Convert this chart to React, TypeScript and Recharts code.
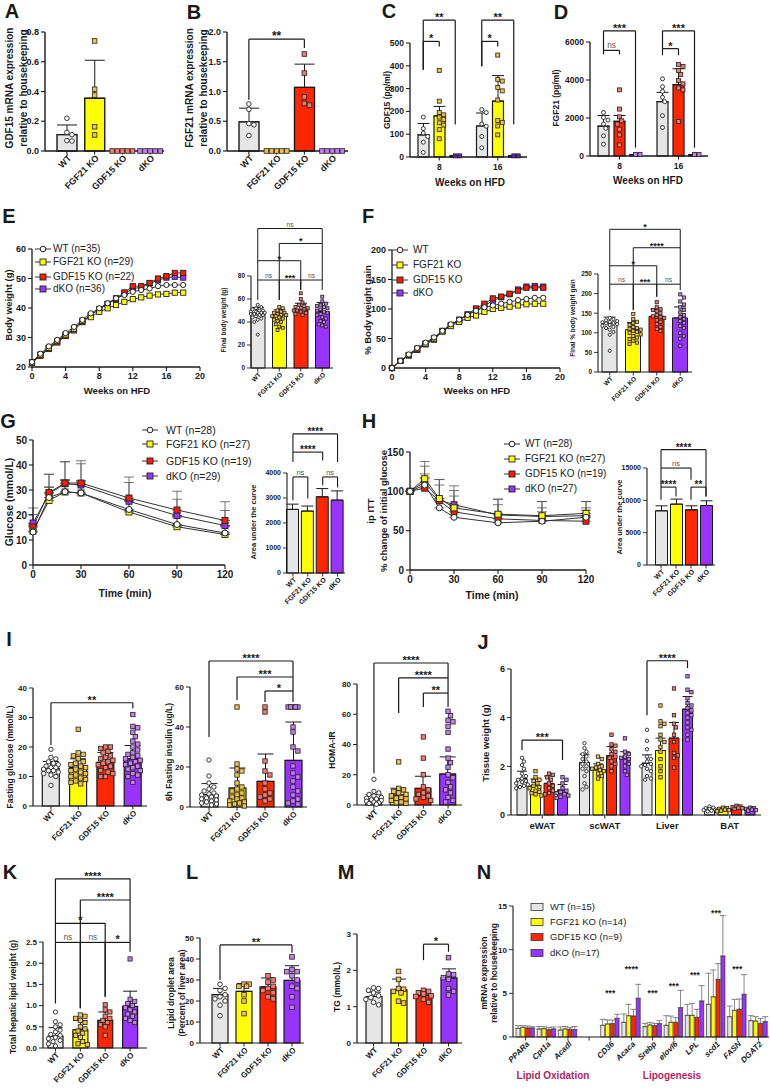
import React from "react";
import {
  ComposedChart,
  Bar,
  Cell,
  ErrorBar,
  Scatter,
  XAxis,
  YAxis,
  ReferenceLine,
  ReferenceDot,
  LineChart,
  Line,
} from "recharts";

const FONT = "'Liberation Sans', Arial, Helvetica, sans-serif";
const INK = "#1a1a1a";

// palette index: WT, FGF21 KO, GDF15 KO, dKO, dKO (dark, panel C)
const BAR_FILL = ["#e6e6e6", "#ffff00", "#ff2600", "#9933ff", "#4a1a8c"];
const DOT_FILL = ["#ffffff", "#efc24e", "#f47a70", "#c77df4", "#5d2aa6"];
const LINE_FILL = ["#ffffff", "#ffff00", "#ff1a00", "#9933ff"];

const GENO = ["WT", "FGF21 KO", "GDF15 KO", "dKO"];

// ---- A / B : liver mRNA
const aMean = [0.11, 0.355, 0, 0];
const aSd = [0.065, 0.255, 0, 0];
const aDots = [
  [0.22, 0.125, 0.11, 0.07, 0.067],
  [0.74, 0.415, 0.376, 0.163, 0.108],
  [0, 0, 0, 0, 0],
  [0, 0, 0, 0, 0],
];
const bMean = [0.49, 0, 1.07, 0];
const bSd = [0.23, 0, 0.39, 0];
const bDots = [
  [0.79, 0.7, 0.46, 0.44, 0.26],
  [0, 0, 0, 0, 0],
  [1.63, 1.31, 0.91, 0.8, 0.77],
  [0, 0, 0, 0, 0],
];

// ---- C / D : plasma GDF15, FGF21 at 8 and 16 weeks
const weeks = ["8", "16"];
const cMean = [[97, 136], [180, 245], [5, 5]];
const cSd = [[50, 57], [42, 112], [0, 0]];
const cDots = [
  [[175, 125, 105, 90, 65, 20], [208, 195, 145, 135, 90, 40]],
  [[380, 245, 195, 185, 175, 165, 150, 140, 120, 80], [447, 340, 333, 305, 290, 250, 160, 152, 136, 97]],
  [[5, 5], [5, 5]],
];
const dMean = [[1570, 2860], [1830, 3760], [80, 80]];
const dSd = [[560, 490], [300, 830], [0, 0]];
const dDots = [
  [[2290, 2030, 1890, 1680, 1460, 1060, 620], [4060, 3650, 3400, 3090, 2860, 2120, 1500]],
  [[3480, 2470, 2060, 1850, 1680, 1410, 1110, 580], [4820, 4710, 4500, 4290, 3970, 3800, 3580, 3480, 1820]],
  [[80, 80], [80, 80]],
];

// ---- E : body weight
const eWeeks = [0, 1, 2, 3, 4, 5, 6, 7, 8, 9, 10, 11, 12, 13, 14, 15, 16, 17, 18];
const eWT = [21.7, 24.5, 27.0, 29.2, 31.5, 33.6, 36.0, 38.2, 39.9, 41.6, 43.3, 44.4, 45.5, 46.1, 46.6, 47.4, 47.8, 47.8, 47.8];
const eF21 = [21.5, 24.2, 26.5, 28.8, 31.0, 33.0, 35.7, 36.9, 38.7, 39.9, 41.0, 42.1, 43.0, 43.6, 44.2, 44.6, 44.8, 45.2, 45.2];
const eG15 = [21.5, 23.8, 26.1, 28.3, 30.5, 33.0, 35.5, 37.5, 39.6, 41.4, 43.3, 45.3, 47.4, 47.4, 48.5, 50.0, 50.8, 51.9, 51.9];
const eDKO = [21.5, 24.0, 26.4, 28.6, 30.6, 32.4, 35.2, 37.6, 39.6, 41.4, 43.0, 44.9, 46.6, 47.0, 48.3, 49.4, 50.3, 50.6, 50.3];
const ebMean = [47.7, 46.2, 50.5, 49.1];
const ebSd = [5, 4.4, 5.8, 7.8];
const ebDots = [
  [55, 53, 52, 51, 50, 50, 49, 49, 48, 48, 48, 47, 47, 46, 46, 45, 44, 43, 42, 40, 29],
  [53, 52, 50, 49, 48, 48, 47, 46, 46, 45, 45, 44, 43, 42, 41, 40, 38, 36, 35, 33],
  [65, 60, 57, 55, 54, 53, 52, 52, 51, 50, 50, 49, 48, 47, 46],
  [62, 58, 56, 55, 54, 53, 52, 51, 50, 49, 48, 47, 46, 44, 43, 41, 40, 38, 37, 36],
];

// ---- F : % body weight gain
const fWT = [0, 12, 23, 34, 43, 52, 63, 74, 82, 90, 97, 103, 106, 109, 112, 115, 117, 119, 119];
const fF21 = [0, 12, 22, 33, 41, 50, 62, 71, 78, 85, 89, 95, 100, 102, 104, 106, 108, 109, 109];
const fG15 = [0, 12, 21, 31, 41, 50, 63, 73, 82, 91, 101, 109, 118, 121, 126, 131, 136, 136, 136];
const fDKO = [0, 12, 22, 31, 40, 48, 62, 72, 81, 90, 98, 106, 114, 120, 125, 133, 138, 139, 138];
const fbMean = [124, 108, 142, 138];
const fbSd = [16, 18, 18, 28];
const fbDots = [
  [138, 135, 132, 130, 128, 127, 125, 124, 122, 120, 118, 115, 112, 108, 102, 95, 54],
  [148, 135, 128, 125, 120, 115, 112, 110, 108, 105, 102, 100, 96, 92, 88, 84, 80, 75, 72],
  [178, 165, 160, 158, 155, 150, 145, 142, 140, 138, 132, 128, 122, 115, 110, 105],
  [198, 190, 180, 172, 165, 158, 152, 145, 140, 135, 130, 125, 118, 112, 100, 92, 85, 67],
];

// ---- G : GTT
const gTime = [0, 10, 20, 30, 60, 90, 120];
const gWT = [13.2, 27.0, 29.3, 28.8, 22.2, 16.2, 12.8];
const gF21 = [13.5, 25.8, 29.2, 28.8, 21.2, 15.3, 12.2];
const gG15 = [15.2, 29.0, 32.8, 32.8, 26.8, 22.0, 17.8];
const gDKO = [16.8, 28.5, 32.5, 32.0, 25.5, 19.8, 15.8];
const gWTsd = [2.5, 4.0, 4.5, 4.5, 3.5, 3.0, 2.5];
const gF21sd = [3.0, 5.5, 5.0, 5.0, 4.5, 4.0, 3.5];
const gG15sd = [5.0, 7.3, 8.5, 8.9, 8.4, 7.5, 7.5];
const gDKOsd = [6.0, 7.8, 8.8, 8.5, 7.5, 6.5, 6.0];
const gbMean = [2545, 2478, 3047, 2915];
const gbSd = [210, 200, 330, 370];

// ---- H : ITT
const hWT = [100, 108, 79, 67, 60, 62, 67];
const hF21 = [100, 116, 91, 79, 71, 69, 72];
const hG15 = [100, 104, 88, 74, 65, 63, 62];
const hDKO = [100, 112, 89, 83, 70, 68, 69];
const hWTsd = [0, 10, 12, 14, 12, 12, 12];
const hF21sd = [0, 22, 24, 22, 19, 18, 15];
const hG15sd = [0, 18, 20, 20, 18, 16, 14];
const hDKOsd = [0, 20, 26, 24, 20, 19, 18];
const hbMean = [8380, 9410, 8530, 9200];
const hbSd = [770, 780, 620, 730];

// ---- I : fasting glucose, insulin, HOMA-IR
const iGluMean = [12.8, 13.0, 14.8, 16.0];
const iGluSd = [2.3, 3.0, 3.3, 4.5];
const iGluDots = [
  [19.2, 16.5, 16, 15, 14.5, 14, 13.5, 13, 13, 12.5, 12, 12, 11.5, 11, 10.5, 10, 7],
  [26, 18, 17.5, 17, 16, 15, 14.5, 14, 13.5, 13, 12.5, 12, 11.5, 11, 10.5, 10, 9.5, 9, 8.5, 8, 7.5],
  [20, 20, 19.5, 18.5, 18, 17, 16.5, 16, 15.5, 15, 14.5, 14, 13.5, 13, 12, 11.5, 11, 10, 10],
  [31, 27, 26.5, 25, 23.5, 22, 21, 20, 19, 18, 17.5, 17, 16.5, 16, 15.5, 15, 14.5, 14, 13.5, 13, 12.5, 12, 11, 10.5, 10, 8],
];
const iInsMean = [6.2, 9.5, 12.8, 23.3];
const iInsSd = [5.5, 10, 13.7, 19.2];
const iInsDots = [
  [23.5, 15.5, 12, 10, 9, 8, 7, 6.5, 6, 5.5, 5, 4.5, 4, 3.5, 3, 2.5, 2, 1.5, 1],
  [50, 21.5, 19, 18, 16, 12, 10, 9, 8, 7, 6, 5, 4.5, 4, 3, 2.5, 2, 1.5, 1, 0.5],
  [50, 47.5, 23, 18, 16, 12, 9, 7, 6, 5, 4, 3],
  [50, 50, 50, 50, 50, 40, 37.5, 30, 28, 20.5, 17, 15, 13, 10, 8, 6, 4, 3, 2, 1.5],
];
const iHomaMean = [4, 6.6, 11, 20.5];
const iHomaSd = [3, 4.5, 8, 11.3];
const iHomaDots = [
  [17, 9, 8, 7, 6, 5, 4.5, 4, 3.5, 3, 2.5, 2, 1.5, 1, 0.5],
  [28.5, 11, 10, 9, 8, 7, 6, 5, 4.5, 4, 3, 2, 1.5, 1],
  [45, 31, 20, 12, 10, 8, 7, 6, 5, 4, 3],
  [62, 59, 56, 55, 52, 48, 37, 31, 28, 25, 20, 18, 15, 12, 10, 8, 5, 3, 2],
];

// ---- J : tissue weights (series = genotype, groups = tissue)
const jTissue = ["eWAT", "scWAT", "Liver", "BAT"];
const jMean = [[1.5, 2.16, 2.13, 0.25], [1.2, 1.85, 2.65, 0.22], [1.3, 2.44, 3.16, 0.3], [1.03, 2.36, 4.35, 0.22]];
const jSd = [[0.3, 0.34, 0.34, 0.06], [0.28, 0.25, 0.51, 0.05], [0.3, 0.37, 0.64, 0.05], [0.22, 0.24, 0.52, 0.05]];
const jDots = [
  [
    [2.35, 2.2, 2.05, 1.9, 1.7, 1.6, 1.5, 1.45, 1.4, 1.35, 1.3, 1.25, 1.2, 1.15, 1.1],
    [2.95, 2.75, 2.6, 2.5, 2.4, 2.3, 2.2, 2.1, 2.0, 1.9, 1.8, 1.6, 1.3, 1.15, 1.05],
    [3.5, 3.05, 2.7, 2.4, 2.3, 2.2, 2.1, 2.05, 2.0, 1.9, 1.8, 1.6, 1.5, 1.45],
    [0.35, 0.3, 0.28, 0.25, 0.22, 0.2, 0.18, 0.15],
  ],
  [
    [1.8, 1.55, 1.45, 1.4, 1.3, 1.2, 1.15, 1.1, 1.0, 0.95, 0.9, 0.85, 0.8],
    [2.4, 2.3, 2.1, 2.0, 1.95, 1.9, 1.85, 1.8, 1.7, 1.6, 1.5],
    [4.5, 3.85, 3.75, 3.65, 3.3, 3.1, 3.0, 2.8, 2.6, 2.3, 2.0, 1.8, 1.55],
    [0.3, 0.28, 0.25, 0.22, 0.2, 0.18, 0.15],
  ],
  [
    [1.7, 1.65, 1.55, 1.45, 1.3, 1.2, 1.1, 1.0, 0.9, 0.85],
    [3.3, 2.9, 2.85, 2.7, 2.6, 2.5, 2.4, 2.35, 2.2, 2.1, 2.0, 1.8],
    [5.2, 4.1, 3.75, 3.6, 3.3, 3.0, 2.55, 2.45, 2.35, 1.95],
    [0.38, 0.35, 0.32, 0.3, 0.28, 0.25],
  ],
  [
    [1.55, 1.45, 1.3, 1.1, 1.0, 0.95, 0.9, 0.85, 0.8, 0.75, 0.7],
    [3.15, 2.6, 2.5, 2.4, 2.35, 2.3, 2.2, 2.1, 2.0, 1.8, 1.65],
    [5.7, 5.15, 5.05, 4.8, 4.6, 4.5, 4.4, 4.3, 4.2, 4.1, 4.0, 3.8, 3.6, 3.5, 3.3, 3.1],
    [0.3, 0.28, 0.25, 0.22, 0.2, 0.18],
  ],
];

// ---- K / L / M : hepatic lipid, droplet area, TG
const kMean = [0.28, 0.43, 0.65, 0.98];
const kSd = [0.2, 0.22, 0.2, 0.36];
const kDots = [
  [0.85, 0.62, 0.55, 0.5, 0.42, 0.38, 0.32, 0.3, 0.25, 0.22, 0.18, 0.15, 0.1, 0.05],
  [0.78, 0.75, 0.7, 0.65, 0.6, 0.5, 0.45, 0.4, 0.35, 0.3, 0.25, 0.15, 0.1, 0.08],
  [1.02, 0.9, 0.85, 0.75, 0.7, 0.65, 0.6, 0.55, 0.5, 0.3],
  [2.1, 1.15, 1.1, 1.05, 1.0, 0.95, 0.9, 0.85, 0.8, 0.75, 0.7, 0.65, 0.6],
];
const lMean = [23, 24.6, 26.7, 29.8];
const lSd = [3, 3.7, 4.3, 7];
const lDots = [
  [28, 26, 25, 23, 22, 21, 20, 18, 13],
  [28, 28, 27, 27, 23, 20, 14],
  [32, 30, 29, 27, 26, 25, 24, 22, 21],
  [41, 35, 34, 34, 32, 30, 27, 26, 22, 17],
];
const mMean = [1.28, 1.46, 1.32, 1.79];
const mSd = [0.12, 0.3, 0.12, 0.25];
const mDots = [
  [1.52, 1.5, 1.45, 1.38, 1.3, 1.25, 1.2, 1.12, 1.05],
  [1.97, 1.75, 1.5, 1.48, 1.42, 1.38, 1.15, 1.1],
  [1.45, 1.42, 1.38, 1.35, 1.3, 1.28, 1.2, 1.12],
  [2.35, 1.9, 1.88, 1.8, 1.75, 1.5, 1.42, 1.32],
];

// ---- N : hepatic gene expression
const nGenes = ["PPARa", "Cpt1a", "Acadl", " ", "CD36", "Acaca", "Srebp", "elovl6", "LPL", "scd1", "FASN", "DGAT2"];
const nMean = [
  [0.99, 0.92, 0.8, 0, 1.34, 1.68, 1.18, 1.34, 2.48, 3.74, 2.33, 1.87],
  [1.1, 0.95, 0.92, 0, 1.49, 2.44, 1.37, 1.68, 2.48, 4.6, 3.05, 1.83],
  [1.03, 0.84, 0.88, 0, 1.53, 2.4, 1.3, 1.68, 2.25, 6.6, 3.17, 1.56],
  [1.03, 0.92, 0.84, 0, 2.14, 4.43, 1.53, 3.36, 4.12, 9.27, 4.89, 1.76],
];
const nSd = [
  [0.31, 0.28, 0.35, 0, 0.68, 0.95, 0.38, 1.1, 1.26, 3.56, 1.22, 0.57],
  [0.2, 0.23, 0.28, 0, 0.46, 1.3, 0.31, 0.72, 1.37, 3.07, 1.26, 0.5],
  [0.23, 0.26, 0.22, 0, 0.42, 0.77, 0.26, 0.53, 0.92, 1.8, 1.18, 0.58],
  [0.15, 0.23, 0.36, 0, 0.46, 1.6, 0.34, 1.98, 1.76, 4.63, 2.25, 0.57],
];
const nStarGene = [4, 5, 6, 7, 8, 9, 10];
const nStarY = [5.0, 7.8, 5.0, 5.8, 7.1, 14.2, 7.8];
const nStarText = ["***", "****", "***", "***", "***", "***", "***"];

const eLegend = ["WT (n=35)", "FGF21 KO (n=29)", "GDF15 KO (n=22)", "dKO (n=36)"];
const fLegend = ["WT", "FGF21 KO", "GDF15 KO", "dKO"];
const gLegend = ["WT (n=28)", "FGF21 KO (n=27)", "GDF15 KO (n=19)", "dKO (n=29)"];
const hLegend = ["WT (n=28)", "FGF21 KO (n=27)", "GDF15 KO (n=19)", "dKO (n=27)"];
const nLegend = ["WT (n=15)", "FGF21 KO (n=14)", "GDF15 KO (n=9)", "dKO (n=17)"];

const SKEYS = ["wt", "f21", "g15", "dko"];
const eRows = eWeeks.map((t, i) => ({ t, wt: eWT[i], f21: eF21[i], g15: eG15[i], dko: eDKO[i] }));
const fRows = eWeeks.map((t, i) => ({ t, wt: fWT[i], f21: fF21[i], g15: fG15[i], dko: fDKO[i] }));
const gRows = gTime.map((t, i) => ({
  t, wt: gWT[i], f21: gF21[i], g15: gG15[i], dko: gDKO[i],
  wtE: [0, gWTsd[i]], f21E: [0, gF21sd[i]], g15E: [0, gG15sd[i]], dkoE: [0, gDKOsd[i]],
}));
const hRows = gTime.map((t, i) => ({
  t, wt: hWT[i], f21: hF21[i], g15: hG15[i], dko: hDKO[i],
  wtE: [0, hWTsd[i]], f21E: [0, hF21sd[i]], g15E: [0, hG15sd[i]], dkoE: [0, hDKOsd[i]],
}));

// simple beeswarm: horizontal offsets (px) so dots don't overlap
function swarm(vals: number[], ppu: number, d: number, lim: number): number[] {
  const order = vals.map((_, i) => i).sort((a, b) => vals[b] - vals[a]);
  const placed: number[][] = [];
  const off = vals.map(() => 0);
  for (const i of order) {
    const y = vals[i] * ppu;
    let pick = 0;
    let best = -1;
    for (let k = 0; k < 80; k++) {
      const c = k === 0 ? 0 : (k % 2 === 1 ? 1 : -1) * Math.ceil(k / 2) * d * 0.5;
      if (Math.abs(c) > lim) break;
      let m = Infinity;
      for (const q of placed) m = Math.min(m, Math.hypot(q[0] - c, q[1] - y));
      if (m >= d) { pick = c; break; }
      if (m > best) { best = m; pick = c; }
    }
    off[i] = pick;
    placed.push([pick, y]);
  }
  return off;
}

const DotShape = (p: any) => {
  const { cx, cy, payload } = p;
  const r = payload.r;
  if (payload.c < 0) return <g />;
  if (payload.c === 0)
    return <circle cx={cx} cy={cy} r={r} fill="#fff" stroke="#222" strokeWidth={0.9} />;
  return (
    <rect x={cx - r} y={cy - r} width={2 * r} height={2 * r} fill={DOT_FILL[payload.c]} stroke="#222" strokeWidth={0.8} />
  );
};

const makeTick = (kind: string, fs: number) => (props: any) => {
  const { x, y, payload } = props;
  if (kind === "flat")
    return (
      <text x={x} y={y + fs * 0.85} textAnchor="middle" fontSize={fs} fontWeight={700} fontFamily={FONT} fill={INK}>
        {payload.value}
      </text>
    );
  const ax = x + fs * 0.3;
  const ay = y;
  return (
    <text
      x={ax}
      y={ay}
      transform={`rotate(-45 ${ax} ${ay})`}
      textAnchor="end"
      dy={fs * 0.35}
      fontSize={fs}
      fontWeight={700}
      fontStyle={kind === "ital" ? "italic" : "normal"}
      fontFamily={FONT}
      fill={INK}
    >
      {payload.value}
    </text>
  );
};

type Br = { a: number[]; b: number[]; y: number; ya: number; yb: number; t: string };

const YW = 40;
const TOP = 95;
const BOT = 70;
const XH = 62;
const RM = 8;

function DotBar(p: any) {
  const padL = p.padL ?? 0;
  const padR = p.padR ?? 0;
  const gap = p.gap ?? 0;
  const aw = p.aw ?? 1.2;
  const bfs = p.bfs ?? 10;
  const G = p.cats.length;
  const S = p.mean.length;
  const band = (p.x2 - p.x1 - padL - padR) / G;
  const ppu = (p.y2 - p.y1) / p.max;
  const pos = (g: number, s: number) => g + ((s - (S - 1) / 2) * (p.bar + gap)) / band;
  const color = (s: number, g: number) => (p.byGroup ? p.col[g] : p.col[s]);
  const rows = p.cats.map((name: string, g: number) => {
    const row: any = { name };
    for (let s = 0; s < S; s++) {
      row["m" + s] = p.mean[s][g];
      row["e" + s] = [0, p.sd[s][g]];
    }
    return row;
  });
  const r = p.r ?? 2;
  // invisible anchors at each bar top keep the numeric helper axis alive
  const pts: any[] = [];
  for (let s = 0; s < S; s++)
    for (let g = 0; g < G; g++) pts.push({ x: pos(g, s), y: p.mean[s][g], c: -1, r: 0 });
  if (p.dots)
    p.dots.forEach((byG: number[][], s: number) =>
      byG.forEach((vals: number[], g: number) => {
        const off = swarm(vals, ppu, 2 * r + 0.5, p.bar / 2 + r * 0.5);
        vals.forEach((v, i) => pts.push({ x: pos(g, s) + off[i] / band, y: v, c: color(s, g), r }));
      })
    );
  const brEls = (p.br ?? []).flatMap((b: Br, i: number) => {
    const xa = pos(b.a[0], b.a[1] ?? 0);
    const xb = pos(b.b[0], b.b[1] ?? 0);
    const ns = b.t === "ns";
    const seg = (k: string, q: any) => (
      <ReferenceLine key={i + k} xAxisId="n" segment={q} stroke={INK} strokeWidth={p.bw ?? 1.2} ifOverflow="visible" />
    );
    return [
      seg("a", [{ x: xa, y: b.ya }, { x: xa, y: b.y }]),
      seg("t", [{ x: xa, y: b.y }, { x: xb, y: b.y }]),
      seg("b", [{ x: xb, y: b.y }, { x: xb, y: b.yb }]),
      <ReferenceDot
        key={i + "l"}
        xAxisId="n"
        x={(xa + xb) / 2}
        y={b.y}
        r={0}
        fill="none"
        stroke="none"
        ifOverflow="visible"
        label={{
          value: b.t,
          position: "top",
          offset: ns ? 2 : -1,
          fontSize: ns ? bfs * 0.75 : bfs,
          fontWeight: ns ? 400 : 700,
          fill: ns ? "#555" : INK,
          fontFamily: FONT,
        }}
      />,
    ];
  });
  const starEls = (p.stars ?? []).map((st: any, i: number) => (
    <ReferenceDot
      key={"s" + i}
      xAxisId="n"
      x={st.g}
      y={st.y}
      r={0}
      fill="none"
      stroke="none"
      ifOverflow="visible"
      label={{ value: st.t, position: "center", fontSize: bfs, fontWeight: 700, fill: INK, fontFamily: FONT }}
    />
  ));
  const W = p.x2 - p.x1 + YW + RM;
  const H = p.y2 - p.y1 + TOP + BOT;
  return (
    <div style={{ position: "absolute", left: p.x1 - YW, top: p.y1 - TOP }}>
      <ComposedChart
        width={W}
        height={H}
        data={rows}
        margin={{ top: TOP, right: RM, bottom: BOT - XH, left: 0 }}
        barSize={p.bar}
        barGap={gap}
      >
        <XAxis
          xAxisId="c"
          dataKey="name"
          type="category"
          height={XH}
          padding={{ left: padL, right: padR }}
          interval={0}
          tickSize={3.5}
          axisLine={{ stroke: INK, strokeWidth: aw }}
          tickLine={{ stroke: INK, strokeWidth: aw * 0.8 }}
          tick={makeTick(p.tick, p.xfs)}
        />
        <XAxis xAxisId="n" type="number" dataKey="x" domain={[-0.5, G - 0.5]} hide padding={{ left: padL, right: padR }} />
        <YAxis
          width={YW}
          domain={[0, p.max]}
          ticks={p.ticks}
          interval={0}
          tickSize={4}
          axisLine={{ stroke: INK, strokeWidth: aw }}
          tickLine={{ stroke: INK, strokeWidth: aw * 0.8 }}
          tickFormatter={(v: number) => (p.dec ? v.toFixed(p.dec) : String(v))}
          tick={{ fontSize: p.tfs, fontWeight: 700, fill: INK, fontFamily: FONT }}
        />
        {Array.from({ length: S }, (_, s) => (
          <Bar
            key={s}
            xAxisId="c"
            dataKey={"m" + s}
            barSize={p.bar}
            stroke={INK}
            strokeWidth={p.bsw ?? 1.2}
            isAnimationActive={false}
          >
            {p.cats.map((_c: string, g: number) => (
              <Cell key={g} fill={BAR_FILL[color(s, g)]} />
            ))}
            <ErrorBar dataKey={"e" + s} width={p.cap} stroke={p.ec ?? INK} strokeWidth={p.esw ?? 1} />
          </Bar>
        ))}
        <Scatter xAxisId="n" data={pts} dataKey="y" shape={DotShape} isAnimationActive={false} />
        {brEls}
        {starEls}
      </ComposedChart>
    </div>
  );
}

function mark(d: any, s: number, r: number) {
  const { cx, cy, index } = d;
  if (cx == null || cy == null) return <g key={index} />;
  if (s === 0) return <circle key={index} cx={cx} cy={cy} r={r} fill="#fff" stroke="#222" strokeWidth={1} />;
  return (
    <rect key={index} x={cx - r} y={cy - r} width={2 * r} height={2 * r} fill={LINE_FILL[s]} stroke="#222" strokeWidth={0.9} />
  );
}

function TimeLines(p: any) {
  const T = 20;
  const XB = 26;
  const W = p.x2 - p.x1 + YW + RM;
  const H = p.y2 - p.y1 + T + XB + 2;
  return (
    <div style={{ position: "absolute", left: p.x1 - YW, top: p.y1 - T }}>
      <LineChart width={W} height={H} data={p.rows} margin={{ top: T, right: RM, bottom: 2, left: 0 }}>
        <XAxis
          dataKey="t"
          type="number"
          domain={p.xd}
          ticks={p.xt}
          interval={0}
          height={XB}
          tickSize={4}
          axisLine={{ stroke: INK, strokeWidth: 1.3 }}
          tickLine={{ stroke: INK, strokeWidth: 1.1 }}
          tick={{ fontSize: p.tfs, fontWeight: 700, fill: INK, fontFamily: FONT }}
        />
        <YAxis
          width={YW}
          domain={p.yd}
          ticks={p.yt}
          interval={0}
          tickSize={4}
          axisLine={{ stroke: INK, strokeWidth: 1.3 }}
          tickLine={{ stroke: INK, strokeWidth: 1.1 }}
          tick={{ fontSize: p.tfs, fontWeight: 700, fill: INK, fontFamily: FONT }}
        />
        {[3, 2, 1, 0].map((s) => (
          <Line
            key={s}
            dataKey={SKEYS[s]}
            stroke="#333"
            strokeWidth={1}
            isAnimationActive={false}
            dot={(d: any) => mark(d, s, p.r)}
          >
            {p.err && <ErrorBar dataKey={SKEYS[s] + "E"} width={5} stroke="#555" strokeWidth={0.8} direction="y" />}
          </Line>
        ))}
      </LineChart>
    </div>
  );
}

function Legend4(p: any) {
  return (
    <>
      {p.labels.map((l: string, i: number) => (
        <React.Fragment key={i}>
          <svg style={{ position: "absolute", left: p.mx - 9, top: p.ys[i] - 6 }} width={18} height={12}>
            {p.box ? (
              <rect x={3} y={2.5} width={12} height={7} fill={BAR_FILL[i]} stroke="#333" strokeWidth={0.8} />
            ) : (
              <>
                <line x1={1} y1={6} x2={17} y2={6} stroke="#333" strokeWidth={1} />
                {i === 0 ? (
                  <circle cx={9} cy={6} r={2.8} fill="#fff" stroke="#222" strokeWidth={1} />
                ) : (
                  <rect x={6} y={3} width={6} height={6} fill={LINE_FILL[i]} stroke="#222" strokeWidth={0.9} />
                )}
              </>
            )}
          </svg>
          <div
            style={{
              position: "absolute",
              left: p.tx,
              top: p.ys[i],
              transform: "translateY(-50%)",
              fontSize: p.fs,
              lineHeight: 1,
              whiteSpace: "nowrap",
              color: "#222",
            }}
          >
            {l}
          </div>
        </React.Fragment>
      ))}
    </>
  );
}

function Txt(p: any) {
  return (
    <div
      style={{
        position: "absolute",
        left: p.x,
        top: p.y,
        transform: "translate(-50%,-50%)",
        fontSize: p.fs,
        fontWeight: p.w ?? 700,
        color: p.c ?? INK,
        whiteSpace: "nowrap",
        lineHeight: 1,
      }}
    >
      {p.t}
    </div>
  );
}

function YLab(p: any) {
  return (
    <div
      style={{
        position: "absolute",
        left: p.x,
        top: p.y,
        transform: "translate(-50%,-50%) rotate(-90deg)",
        fontSize: p.fs,
        fontWeight: 700,
        whiteSpace: "nowrap",
        lineHeight: p.lh ?? 1.2,
        textAlign: "center",
        color: INK,
      }}
    >
      {p.lines.map((l: string, i: number) => (
        <div key={i}>{l}</div>
      ))}
    </div>
  );
}

const Letter = (p: any) => <Txt x={p.x} y={p.y} t={p.ch} fs={20} />;

const G4 = [0, 1, 2, 3];

export default function App() {
  return (
    <div
      style={{
        position: "absolute",
        left: 0,
        top: 0,
        width: 770,
        height: 1090,
        overflow: "hidden",
        background: "#fff",
        fontFamily: FONT,
        color: INK,
      }}
    >
      {/* A */}
      <Letter ch="A" x={12} y={11} />
      <YLab x={17} y={88} lines={["GDF15 mRNA expression", "relative to housekeeping"]} fs={10} lh={1.4} />
      <DotBar x1={45} x2={164} y1={32} y2={151} padL={8} cats={GENO} mean={[aMean]} sd={[aSd]} dots={[aDots]}
        col={G4} byGroup max={0.8} ticks={[0, 0.2, 0.4, 0.6, 0.8]} dec={1} tfs={9} bar={20} r={2.3} cap={10}
        tick="rot" xfs={9} aw={1.4} bsw={1.4} />

      {/* B */}
      <Letter ch="B" x={194} y={12} />
      <YLab x={197} y={88} lines={["FGF21 mRNA expression", "relative to housekeeping"]} fs={10} lh={1.4} />
      <DotBar x1={227} x2={348} y1={32} y2={151} padL={8} padR={2} cats={GENO} mean={[bMean]} sd={[bSd]} dots={[bDots]}
        col={G4} byGroup max={2} ticks={[0, 0.5, 1, 1.5, 2]} dec={1} tfs={9} bar={20} r={2.3} cap={10}
        tick="rot" xfs={9} aw={1.4} bsw={1.4} bfs={12}
        br={[{ a: [0], b: [2], y: 1.88, ya: 0.86, yb: 1.73, t: "**" }]} />

      {/* C */}
      <Letter ch="C" x={389} y={11} />
      <YLab x={387} y={100} lines={["GDF15 (pg/ml)"]} fs={8.5} />
      <DotBar x1={410} x2={527} y1={43} y2={157} cats={weeks} mean={cMean} sd={cSd} dots={cDots}
        col={[0, 1, 4]} max={500} ticks={[0, 100, 200, 300, 400, 500]} tfs={8.5} bar={11} gap={5} r={2} cap={6}
        tick="flat" xfs={8.5} aw={1.3} bfs={11}
        br={[
          { a: [0, 0], b: [0, 2], y: 600, ya: 383, yb: 142, t: "**" },
          { a: [0, 0], b: [0, 1], y: 507, ya: 383, yb: 485, t: "*" },
          { a: [1, 0], b: [1, 2], y: 600, ya: 398, yb: 142, t: "**" },
          { a: [1, 0], b: [1, 1], y: 507, ya: 398, yb: 485, t: "*" },
        ]} />
      <Txt x={470} y={183} t="Weeks on HFD" fs={10} />

      {/* D */}
      <Letter ch="D" x={561} y={12} />
      <YLab x={556} y={98} lines={["FGF21 (pg/ml)"]} fs={8.5} />
      <DotBar x1={590} x2={708} y1={42} y2={156} cats={weeks} mean={dMean} sd={dSd} dots={dDots}
        col={[0, 2, 3]} max={6000} ticks={[0, 2000, 4000, 6000]} tfs={8.5} bar={11} gap={5} r={2} cap={6}
        tick="flat" xfs={8.5} aw={1.3} bfs={11}
        br={[
          { a: [0, 0], b: [0, 2], y: 6583, ya: 5560, yb: 441, t: "***" },
          { a: [0, 0], b: [0, 1], y: 5560, ya: 5350, yb: 5350, t: "ns" },
          { a: [1, 0], b: [1, 2], y: 6583, ya: 5650, yb: 441, t: "***" },
          { a: [1, 0], b: [1, 1], y: 5650, ya: 5300, yb: 5300, t: "*" },
        ]} />
      <Txt x={648} y={181} t="Weeks on HFD" fs={10} />

      {/* E */}
      <Letter ch="E" x={9} y={216} />
      <YLab x={9} y={305} lines={["Body weight (g)"]} fs={9.5} />
      <TimeLines x1={32} x2={200} y1={249} y2={367} rows={eRows} xd={[0, 20]} xt={[0, 4, 8, 12, 16, 20]}
        yd={[20, 60]} yt={[20, 30, 40, 50, 60]} tfs={9} r={2.6} />
      <Legend4 mx={43} tx={53} ys={[249, 262, 277, 289]} labels={eLegend} fs={10} />
      <Txt x={117} y={391} t="Weeks on HFD" fs={9.5} />
      <YLab x={224} y={320} lines={["Final body weight (g)"]} fs={6.5} />
      <DotBar x1={251} x2={333} y1={276} y2={368} padL={-4} cats={GENO} mean={[ebMean]} sd={[ebSd]} dots={[ebDots]}
        col={G4} byGroup max={80} ticks={[0, 20, 40, 60, 80]} tfs={6.5} bar={14} r={1.5} cap={6}
        tick="rot" xfs={6.5} aw={1.1} bsw={1} bfs={9} bw={1}
        br={[
          { a: [0], b: [3], y: 121.3, ya: 93.3, yb: 108.3, t: "ns" },
          { a: [1], b: [3], y: 108.3, ya: 76.5, yb: 76.5, t: "*" },
          { a: [0], b: [2], y: 93.3, ya: 76.5, yb: 76.5, t: "*" },
          { a: [0], b: [1], y: 76.5, ya: 59.2, yb: 59.2, t: "ns" },
          { a: [1], b: [2], y: 76.5, ya: 59.2, yb: 67.9, t: "***" },
          { a: [2], b: [3], y: 76.5, ya: 67.9, yb: 67.9, t: "ns" },
        ]} />

      {/* F */}
      <Letter ch="F" x={368} y={216} />
      <YLab x={368} y={310} lines={["% Body weight gain"]} fs={9.5} />
      <TimeLines x1={392} x2={560} y1={250} y2={368} rows={fRows} xd={[0, 20]} xt={[0, 4, 8, 12, 16, 20]}
        yd={[0, 200]} yt={[0, 50, 100, 150, 200]} tfs={9} r={2.6} />
      <Legend4 mx={400} tx={413} ys={[250, 265, 280, 293]} labels={fLegend} fs={10} />
      <Txt x={477} y={391} t="Weeks on HFD" fs={9.5} />
      <YLab x={573} y={318} lines={["Final % body weight gain"]} fs={6.5} />
      <DotBar x1={598} x2={692} y1={274} y2={372} cats={GENO} mean={[fbMean]} sd={[fbSd]} dots={[fbDots]}
        col={G4} byGroup max={250} ticks={[0, 50, 100, 150, 200, 250]} tfs={6.5} bar={15} r={1.6} cap={6}
        tick="rot" xfs={6.5} aw={1.1} bsw={1} bfs={9} bw={1}
        br={[
          { a: [0], b: [3], y: 364, ya: 271, yb: 317, t: "*" },
          { a: [1], b: [3], y: 317, ya: 224, yb: 224, t: "****" },
          { a: [0], b: [2], y: 271, ya: 224, yb: 224, t: "*" },
          { a: [0], b: [1], y: 224, ya: 158, yb: 158, t: "ns" },
          { a: [1], b: [2], y: 224, ya: 158, yb: 192, t: "***" },
          { a: [2], b: [3], y: 224, ya: 192, yb: 209, t: "ns" },
        ]} />

      {/* G */}
      <Letter ch="G" x={8} y={421} />
      <YLab x={9} y={502} lines={["Glucose (mmol/L)"]} fs={10.5} />
      <TimeLines x1={33} x2={225} y1={440} y2={565} rows={gRows} xd={[0, 120]} xt={[0, 30, 60, 90, 120]}
        yd={[0, 50]} yt={[0, 10, 20, 30, 40, 50]} tfs={10} r={3} err />
      <Legend4 mx={150} tx={166} ys={[430, 444, 461, 476]} labels={gLegend} fs={10.5} />
      <Txt x={125} y={593} t="Time (min)" fs={10.5} />
      <YLab x={253} y={522} lines={["Area under the curve"]} fs={7.5} />
      <DotBar x1={287} x2={345} y1={473} y2={573} padL={-1.5} cats={GENO} mean={[gbMean]} sd={[gbSd]}
        col={G4} byGroup max={4000} ticks={[0, 1000, 2000, 3000, 4000]} tfs={7} bar={12} cap={6}
        tick="rot" xfs={7} aw={1.1} bsw={1} bfs={10} bw={1.1}
        br={[
          { a: [0], b: [3], y: 5565, ya: 4836, yb: 4439, t: "****" },
          { a: [0], b: [2], y: 4836, ya: 4439, yb: 4505, t: "****" },
          { a: [0], b: [1], y: 3843, ya: 2915, yb: 2981, t: "ns" },
          { a: [2], b: [3], y: 3843, ya: 3511, yb: 3419, t: "ns" },
        ]} />

      {/* H */}
      <Letter ch="H" x={369} y={421} />
      <YLab x={378} y={511} lines={["ip ITT", "% change of initial glucose"]} fs={9.5} lh={1.35} />
      <TimeLines x1={410} x2={586} y1={452} y2={570} rows={hRows} xd={[0, 120]} xt={[0, 30, 60, 90, 120]}
        yd={[0, 150]} yt={[0, 50, 100, 150]} tfs={10} r={3} err />
      <Legend4 mx={512} tx={525} ys={[444, 459, 474, 489]} labels={hLegend} fs={10} />
      <Txt x={492} y={595} t="Time (min)" fs={10.5} />
      <YLab x={619} y={517} lines={["Area under the curve"]} fs={7.5} />
      <DotBar x1={647} x2={715} y1={468} y2={565} padL={6.5} padR={1.5} cats={GENO} mean={[hbMean]} sd={[hbSd]}
        col={G4} byGroup max={15000} ticks={[0, 5000, 10000, 15000]} tfs={7} bar={12} cap={6}
        tick="rot" xfs={7} aw={1.1} bsw={1} bfs={10} bw={1.1}
        br={[
          { a: [0], b: [3], y: 17837, ya: 14993, yb: 10599, t: "****" },
          { a: [0], b: [2], y: 14993, ya: 12046, yb: 13184, t: "ns" },
          { a: [0], b: [1], y: 12046, ya: 10082, yb: 10599, t: "****" },
          { a: [2], b: [3], y: 12046, ya: 10082, yb: 10599, t: "**" },
        ]} />

      {/* I */}
      <Letter ch="I" x={9} y={639} />
      <YLab x={10} y={757} lines={["Fasting glucose (mmol/L)"]} fs={8.5} />
      <DotBar x1={33} x2={147} y1={688} y2={806} padL={4.3} padR={0.5} cats={GENO} mean={[iGluMean]} sd={[iGluSd]}
        dots={[iGluDots]} col={G4} byGroup max={40} ticks={[0, 10, 20, 30, 40]} tfs={8} bar={17} r={2.2} cap={8}
        tick="rot" xfs={8} aw={1.2} bsw={1.2} bfs={11}
        br={[{ a: [0], b: [3], y: 35, ya: 20.7, yb: 33.1, t: "**" }]} />
      <YLab x={169} y={752} lines={["6h Fasting insulin (ug/L)"]} fs={8.5} />
      <DotBar x1={190} x2={307} y1={687} y2={807} padL={5} cats={GENO} mean={[iInsMean]} sd={[iInsSd]}
        dots={[iInsDots]} col={G4} byGroup max={60} ticks={[0, 20, 40, 60]} tfs={8} bar={17} r={2.2} cap={8}
        tick="rot" xfs={8} aw={1.2} bsw={1.2} bfs={11}
        br={[
          { a: [0], b: [3], y: 73, ya: 35, yb: 65, t: "****" },
          { a: [1], b: [3], y: 65, ya: 53.5, yb: 58, t: "***" },
          { a: [2], b: [3], y: 58, ya: 52.5, yb: 52.5, t: "*" },
        ]} />
      <YLab x={332} y={750} lines={["HOMA-IR"]} fs={8.5} />
      <DotBar x1={357} x2={462} y1={684} y2={805} padL={4.6} padR={1.6} cats={GENO} mean={[iHomaMean]} sd={[iHomaSd]}
        dots={[iHomaDots]} col={G4} byGroup max={80} ticks={[0, 20, 40, 60, 80]} tfs={8} bar={16} r={2.2} cap={8}
        tick="rot" xfs={8} aw={1.2} bsw={1.2} bfs={11}
        br={[
          { a: [0], b: [3], y: 93.9, ya: 21, yb: 84, t: "****" },
          { a: [1], b: [3], y: 84, ya: 60.8, yb: 74, t: "****" },
          { a: [2], b: [3], y: 74, ya: 64.8, yb: 64.8, t: "**" },
        ]} />

      {/* J */}
      <Letter ch="J" x={483} y={642} />
      <YLab x={486} y={743} lines={["Tissue weight (g)"]} fs={9.5} />
      <DotBar x1={511} x2={761} y1={669} y2={815} cats={jTissue} mean={jMean} sd={jSd} dots={jDots}
        col={G4} max={6} ticks={[0, 2, 4, 6]} tfs={9} bar={10} gap={3.5} r={1.7} cap={5}
        tick="flat" xfs={9.5} aw={1.2} bsw={1} bfs={11}
        br={[
          { a: [0, 0], b: [0, 3], y: 3.08, ya: 2.67, yb: 2.26, t: "***" },
          { a: [2, 0], b: [2, 3], y: 6.34, ya: 4.1, yb: 6.04, t: "****" },
        ]} />

      {/* K */}
      <Letter ch="K" x={10} y={872} />
      <YLab x={13} y={997} lines={["Total hepatic lipid  weight (g)"]} fs={8.5} />
      <DotBar x1={43} x2={147} y1={942} y2={1048} padR={4.5} cats={GENO} mean={[kMean]} sd={[kSd]} dots={[kDots]}
        col={G4} byGroup max={2.5} ticks={[0, 0.5, 1, 1.5, 2, 2.5]} dec={1} tfs={8} bar={15} r={2.1} cap={7}
        tick="rot" xfs={8} aw={1.2} bsw={1.2} bfs={11}
        br={[
          { a: [0], b: [3], y: 3.99, ya: 2.94, yb: 3.49, t: "****" },
          { a: [1], b: [3], y: 3.49, ya: 2.49, yb: 2.49, t: "****" },
          { a: [0], b: [2], y: 2.94, ya: 2.49, yb: 2.49, t: "*" },
          { a: [0], b: [1], y: 2.49, ya: 1.05, yb: 0.94, t: "ns" },
          { a: [1], b: [2], y: 2.49, ya: 0.94, yb: 1.21, t: "ns" },
          { a: [2], b: [3], y: 2.49, ya: 1.21, yb: 2.27, t: "*" },
        ]} />

      {/* L */}
      <Letter ch="L" x={192} y={872} />
      <YLab x={177} y={993} lines={["Lipid droplet area", "(Percent of liver area)"]} fs={8.5} lh={1.3} />
      <DotBar x1={200} x2={304} y1={938} y2={1043} padL={8} cats={GENO} mean={[lMean]} sd={[lSd]} dots={[lDots]}
        col={G4} byGroup max={50} ticks={[0, 10, 20, 30, 40, 50]} tfs={8} bar={16} r={2.3} cap={7}
        tick="rot" xfs={8} aw={1.2} bsw={1.2} bfs={11}
        br={[{ a: [0], b: [3], y: 46.7, ya: 30, yb: 43, t: "**" }]} />

      {/* M */}
      <Letter ch="M" x={346} y={872} />
      <YLab x={337} y={987} lines={["TG (mmol/L)"]} fs={8.5} />
      <DotBar x1={357} x2={462} y1={934} y2={1043} padL={4} padR={1} cats={GENO} mean={[mMean]} sd={[mSd]} dots={[mDots]}
        col={G4} byGroup max={3} ticks={[0, 1, 2, 3]} tfs={8} bar={16} r={2.3} cap={7}
        tick="rot" xfs={8} aw={1.2} bsw={1.2} bfs={11}
        br={[{ a: [2], b: [3], y: 2.72, ya: 2.28, yb: 2.51, t: "*" }]} />

      {/* N */}
      <Letter ch="N" x={484} y={872} />
      <YLab x={489} y={973} lines={["mRNA expression", "relative to housekeeping"]} fs={8.5} lh={1.2} />
      <DotBar x1={513} x2={769} y1={906} y2={1037} padL={2} cats={nGenes} mean={nMean} sd={nSd}
        col={G4} max={15} ticks={[0, 5, 10, 15]} tfs={8} bar={4} gap={0.8} cap={3}
        tick="ital" xfs={8} aw={1.1} bsw={0.6} bfs={8.5} ec="#555" esw={0.7}
        stars={nStarGene.map((g, i) => ({ g, y: nStarY[i], t: nStarText[i] }))} />
      <Legend4 box mx={537} tx={550} ys={[907, 922, 937, 953]} labels={nLegend} fs={9.5} />
      <Txt x={553} y={1076} t="Lipid Oxidation" fs={10} c="#b21f66" />
      <Txt x={672} y={1076} t="Lipogenesis" fs={10} c="#b21f66" />
    </div>
  );
}
